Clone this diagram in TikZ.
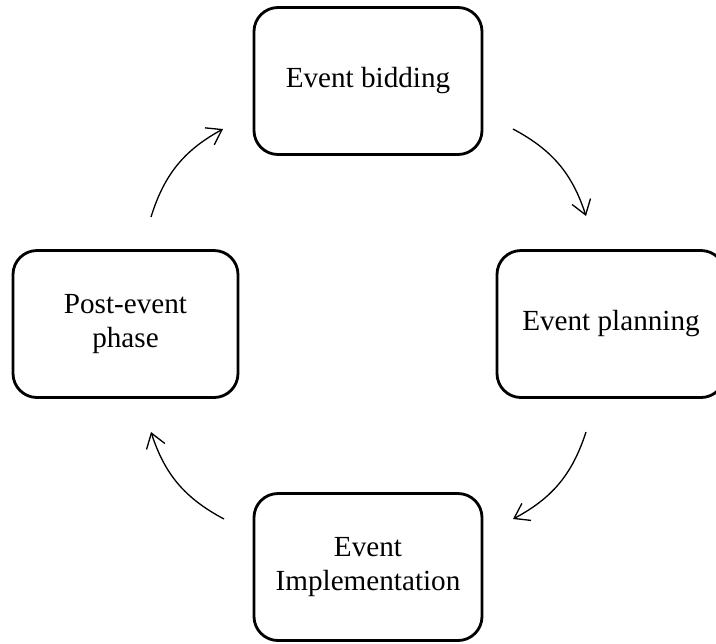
\documentclass[tikz,border=0pt]{standalone}
\usepackage{fontspec}
\setmainfont{Liberation Serif}
\usetikzlibrary{arrows.meta}
\begin{document}
\begin{tikzpicture}[
    phase/.style={draw, line width=1.6pt, rounded corners=0.48cm,
        minimum width=4.56cm, minimum height=2.94cm, align=center,
        font=\fontsize{16.6}{19.5}\selectfont},
    cyclearrow/.style={line width=0.75pt,
        -{Straight Barb[length=8pt,width=11pt,line width=0.75pt]}}
]
    \useasboundingbox (0,0) rectangle (14.32,-12.86);

    % Phases of the event cycle
    \node[phase] (bidding) at (7.36,-1.62) {Event bidding};
    \node[phase] (planning) at (12.22,-6.48) {Event planning};
    \node[phase] (implementation) at (7.36,-11.34) {Event\\Implementation};
    \node[phase, minimum width=4.5cm] (postevent) at (2.51,-6.48) {Post-event\\phase};

    % Arrow ends between the phases
    \coordinate (bidOut) at (10.26,-2.58);
    \coordinate (planIn) at (11.72,-4.32);
    \coordinate (planOut) at (11.72,-8.64);
    \coordinate (implIn) at (10.26,-10.38);
    \coordinate (implOut) at (4.48,-10.38);
    \coordinate (postIn) at (3.02,-8.64);
    \coordinate (postOut) at (3.02,-4.34);
    \coordinate (bidIn) at (4.46,-2.58);

    % Cycle arrows
    \draw[cyclearrow] (bidOut) to[bend left=22] (planIn);
    \draw[cyclearrow] (planOut) to[bend left=22] (implIn);
    \draw[cyclearrow] (implOut) to[bend left=22] (postIn);
    \draw[cyclearrow] (postOut) to[bend left=22] (bidIn);
\end{tikzpicture}
\end{document}
